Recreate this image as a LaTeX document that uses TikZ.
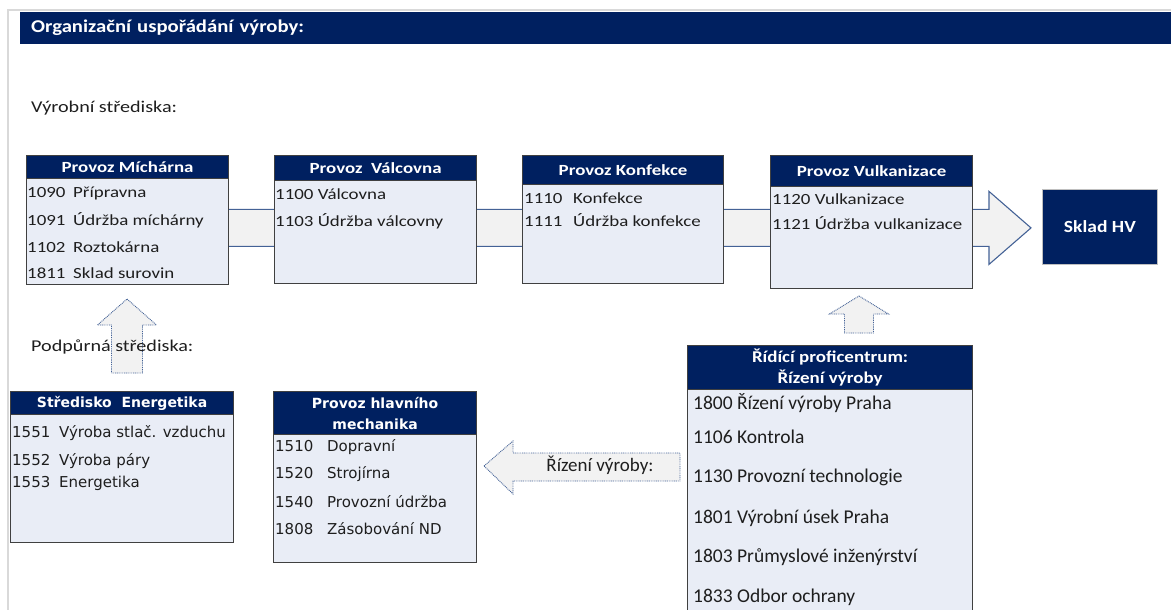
\documentclass[tikz,border=0pt]{standalone}
\usepackage{fontspec}
\setmainfont{Carlito}
\newfontfamily\sirokyfont[FakeStretch=1.22]{Carlito}
\newfontfamily\titulfont[FakeStretch=1.15]{Carlito}
\newfontfamily\verdanafont{DejaVu Sans}
\usepackage{tikz}
\usetikzlibrary{calc,backgrounds}
\definecolor{navy}{RGB}{0,32,96}
\definecolor{telofill}{RGB}{233,237,246}
\definecolor{okraj}{RGB}{64,64,64}
\definecolor{sipkafill}{RGB}{242,242,242}
\definecolor{sipkaline}{RGB}{68,98,150}
\definecolor{ramecgray}{RGB}{217,217,217}
\definecolor{textgray}{RGB}{30,30,30}
\newcommand{\pismoA}{\sirokyfont\fontsize{15.5}{18}\selectfont}
\newcommand{\hlavaA}{\sirokyfont\bfseries\fontsize{15.5}{18}\selectfont}
\newcommand{\pismoB}{\verdanafont\fontsize{15}{18}\selectfont}
\newcommand{\hlavaB}{\verdanafont\bfseries\fontsize{14}{21}\selectfont}
\newcommand{\pismoC}{\fontsize{19.5}{22}\selectfont}
\newcommand{\hlavaC}{\titulfont\bfseries\fontsize{16.5}{21}\selectfont}
\newcommand{\popisek}{\sirokyfont\fontsize{16.5}{19}\selectfont}

\begin{document}
\begin{tikzpicture}[x=1pt,y=-1pt,
    telo/.style={draw=okraj,line width=1.2pt,fill=telofill,anchor=north west,inner sep=0pt},
    hlava/.style={draw=okraj,line width=1.2pt,fill=navy,text=white,anchor=north west,inner sep=0pt,align=center},
    radek/.style={anchor=west,inner sep=0pt,text=textgray},
    blok/.style={draw=sipkaline,line width=1.1pt,fill=sipkafill},
    tecky/.style={draw=sipkaline,line width=0.9pt,dash pattern=on 0.9pt off 0.9pt,fill=sipkafill}]
    \useasboundingbox (0,0) rectangle (1171,610);
    \draw[ramecgray,line width=1.2pt] (8,610) -- (8,10) -- (1171,10);
    \node at (20,12)[name=titul,anchor=north west,fill=navy,text=white,minimum height=32pt,
      text width=1129pt,inner xsep=11pt,inner ysep=0pt,align=left,
      font=\titulfont\bfseries\fontsize{18}{20}\selectfont]{Organizační uspořádání výroby:};

    \node at (31,108)[name=vyrobni,radek,font=\popisek]{Výrobní střediska:};

    \node at (26,155)[name=mich,telo,minimum width=202pt,minimum height=129pt]{};
    \node at (26,155)[name=michH,hlava,minimum width=202pt,minimum height=23pt,font=\hlavaA]{Provoz Míchárna};
    \node at (274,155)[name=valc,telo,minimum width=202pt,minimum height=128pt]{};
    \node at (274,155)[name=valcH,hlava,minimum width=202pt,minimum height=25pt,font=\hlavaA]{Provoz\ \ Válcovna};
    \node at (522,155)[name=konf,telo,minimum width=201pt,minimum height=128pt]{};
    \node at (522,155)[name=konfH,hlava,minimum width=201pt,minimum height=29pt,font=\hlavaA]{Provoz Konfekce};
    \node at (770,155)[name=vulk,telo,minimum width=202pt,minimum height=133pt]{};
    \node at (770,155)[name=vulkH,hlava,minimum width=202pt,minimum height=31pt,font=\hlavaA]{Provoz Vulkanizace};
    \node at (1042,189)[name=sklad,anchor=north west,minimum width=115pt,minimum height=75pt,inner sep=0pt,
      fill=navy,draw=gray!50,line width=0.8pt,text=white,font=\titulfont\bfseries\fontsize{17}{20}\selectfont]{Sklad HV};

    \begin{scope}[font=\pismoA]
    \node at (27,193)[name=mich1,radek]{\makebox[46pt][l]{1090}Přípravna};
    \node at (27,220)[name=mich2,radek]{\makebox[46pt][l]{1091}Údržba míchárny};
    \node at (27,247)[name=mich3,radek]{\makebox[46pt][l]{1102}Roztokárna};
    \node at (27,273)[name=mich4,radek]{\makebox[46pt][l]{1811}Sklad surovin};
    \node at (275,194)[name=valc1,radek]{1100 Válcovna};
    \node at (275,221)[name=valc2,radek]{1103 Údržba válcovny};
    \node at (524,198)[name=konf1,radek]{\makebox[49pt][l]{1110}Konfekce};
    \node at (524,220)[name=konf2,radek]{\makebox[49pt][l]{1111}Údržba konfekce};
    \node at (772,199)[name=vulk1,radek]{1120 Vulkanizace};
    \node at (772,223)[name=vulk2,radek]{1121 Údržba vulkanizace};
    \end{scope}

    \coordinate (podporaHrot) at (127,299);
    \draw[tecky] (podporaHrot) -- ++(29.5,26) -- ++(-14,0) -- ++(0,48) -- ++(-31,0) -- ++(0,-48) -- ++(-14,0) -- cycle;
    \node at (31,347)[name=podpurna,radek,font=\popisek]{Podpůrná střediska:};

    \node at (10,391)[name=ener,telo,minimum width=223pt,minimum height=151pt]{};
    \node at (10,391)[name=enerH,hlava,minimum width=223pt,minimum height=23pt,font=\hlavaB]{Středisko\ \ Energetika};
    \node at (273,391)[name=mech,telo,minimum width=203pt,minimum height=171pt]{};
    \node at (273,391)[name=mechH,hlava,minimum width=203pt,minimum height=43pt,font=\hlavaB]{Provoz hlavního\\mechanika};

    \begin{scope}[font=\pismoB]
    \node at (12,433)[name=ener1,radek]{\makebox[47pt][l]{1551}Výroba stlač. vzduchu};
    \node at (12,461)[name=ener2,radek]{\makebox[47pt][l]{1552}Výroba páry};
    \node at (12,483)[name=ener3,radek]{\makebox[47pt][l]{1553}Energetika};
    \node at (275,447)[name=mech1,radek]{\makebox[52pt][l]{1510}Dopravní};
    \node at (275,474)[name=mech2,radek]{\makebox[52pt][l]{1520}Strojírna};
    \node at (275,502)[name=mech3,radek]{\makebox[52pt][l]{1540}Provozní údržba};
    \node at (275,529)[name=mech4,radek]{\makebox[52pt][l]{1808}Zásobování ND};
    \end{scope}

    \coordinate (rizeniHrot) at (859,296);
    \draw[tecky] (rizeniHrot) -- ++(29.5,18) -- ++(-15,0) -- ++(0,19) -- ++(-29,0) -- ++(0,-19) -- ++(-15,0) -- cycle;
    \node at (687,345)[name=ridi,telo,minimum width=285pt,minimum height=280pt]{};
    \node at (687,345)[name=ridiH,hlava,minimum width=285pt,minimum height=44pt,font=\hlavaC]{Řídící proficentrum:\\Řízení výroby};

    \begin{scope}[font=\pismoC]
    \node at (693,403)[name=ridi1,radek]{1800 Řízení výroby Praha};
    \node at (693,437)[name=ridi2,radek]{1106 Kontrola};
    \node at (693,477)[name=ridi3,radek]{1130 Provozní technologie};
    \node at (693,518)[name=ridi4,radek]{1801 Výrobní úsek Praha};
    \node at (693,557)[name=ridi5,radek]{1803 Průmyslové inženýrství};
    \node at (693,597)[name=ridi6,radek]{1833 Odbor ochrany};
    \end{scope}

    \coordinate (mechHrot) at (484,466);
    \draw[tecky] (mechHrot) -- ++(29,-25) -- ++(0,12) -- ++(167,0) -- ++(0,28) -- ++(-167,0) -- ++(0,13) -- cycle;
    \node at (600,465)[name=rizeniText,inner sep=0pt,text=textgray,font=\fontsize{19}{22}\selectfont]{Řízení výroby:};

    \coordinate (hrot) at ($(sklad.west)+(-11,1)$);
    \begin{scope}[on background layer]
    \draw[blok] (mich.center |- hrot) ++(0,-18.5) -- ($(hrot)+(-42,-18.5)$) -- ($(hrot)+(-42,-36.5)$) -- (hrot)
      -- ($(hrot)+(-42,36.5)$) -- ($(hrot)+(-42,18.5)$) -- ($(mich.center |- hrot)+(0,18.5)$) -- cycle;
    \end{scope}
\end{tikzpicture}
\end{document}
